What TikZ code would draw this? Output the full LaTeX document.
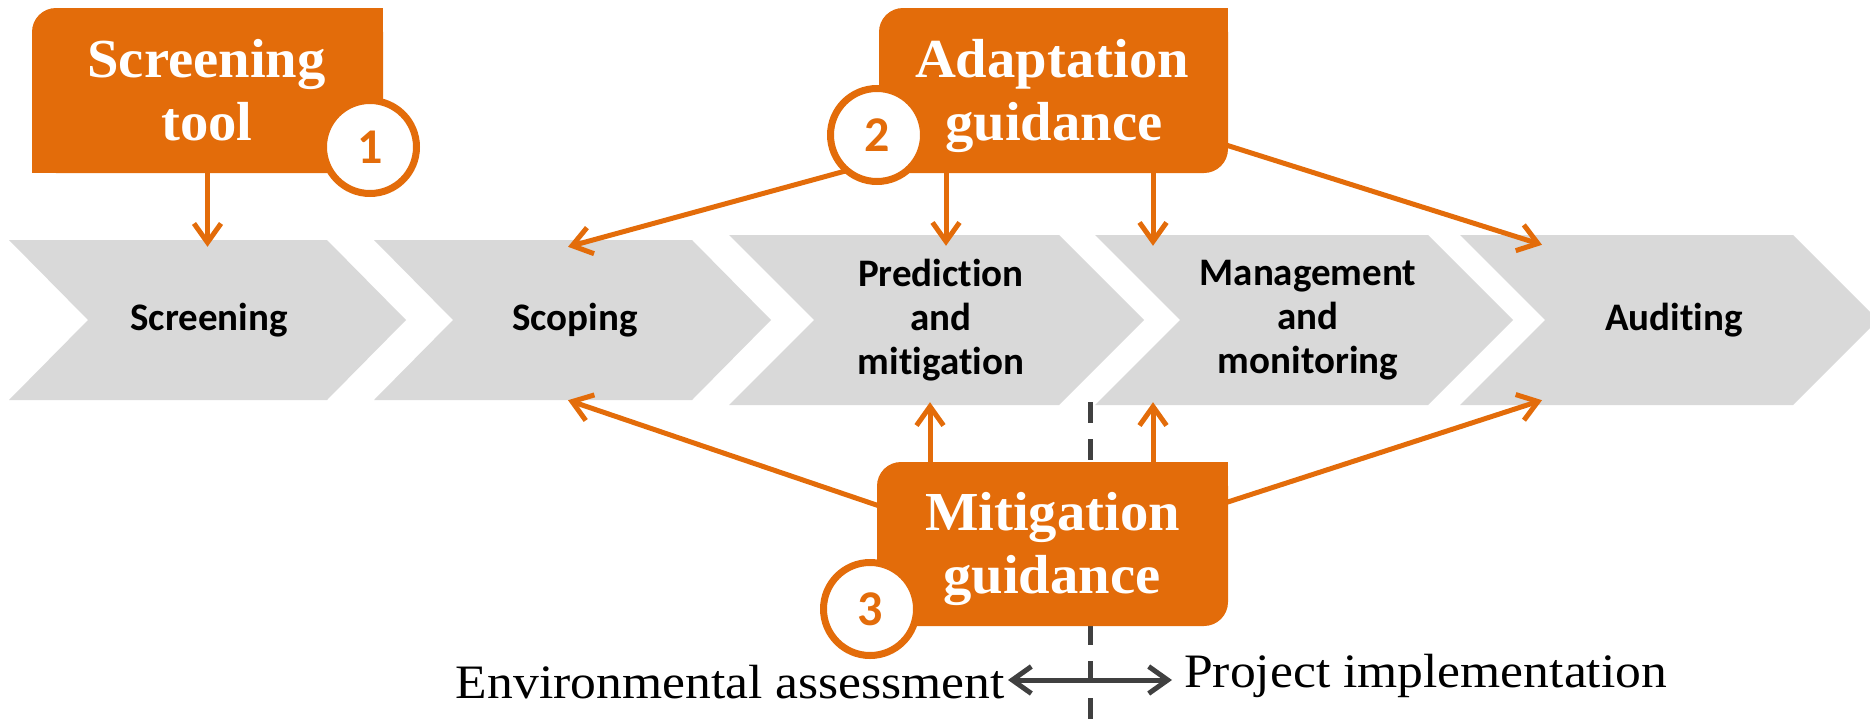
\documentclass[tikz,border=0pt]{standalone}
\usepackage{fontspec}
\usepackage{graphicx}
\setmainfont{Liberation Serif}
\newfontfamily\carl[Ligatures={NoCommon,NoContextual}]{Carlito}
\usetikzlibrary{arrows.meta,calc}
\pgfdeclarelayer{bg}
\pgfdeclarelayer{lines}
\pgfsetlayers{bg,lines,main}
\definecolor{org}{HTML}{E36C0A}
\definecolor{chevgray}{HTML}{D9D9D9}
\definecolor{dkgray}{HTML}{404040}
\tikzset{
 chev/.style={fill=chevgray},
 chevlbl/.style={font=\carl\bfseries\fontsize{39}{44}\selectfont, align=center, inner sep=0pt, text=black},
 boxnode/.style={inner sep=0pt, outer sep=0pt},
 boxtxt/.style={font=\bfseries\fontsize{55}{63}\selectfont, text=white, inner sep=0pt, anchor=base},
 numcirc/.style={circle, draw=org, line width=7pt, fill=white, minimum size=93pt, inner sep=0pt, font=\carl\bfseries\fontsize{50}{50}\selectfont, text=org},
 arr/.style={draw=org, line width=5pt, -{Straight Barb[length=19pt,width=27pt]}},
 phase/.style={font=\fontsize{48}{56}\selectfont, inner sep=0pt},
 dbl/.style={draw=dkgray, line width=5pt, {Straight Barb[length=19pt,width=27pt]}-{Straight Barb[length=19pt,width=27pt]}},
 divider/.style={draw=dkgray, line width=5pt, dash pattern=on 21pt off 16pt},
}
\begin{document}
\begin{tikzpicture}[x=1pt,y=-1pt]
\useasboundingbox (0,0) rectangle (1870,720);

\begin{pgfonlayer}{bg}
\begin{scope}
\clip (0,0) rectangle (1870,720);
\fill[chev] (9,240) -- (327,240) -- (406,320) -- (327,400) -- (9,400) -- (88,320) -- cycle;
\fill[chev] (374,240) -- (692,240) -- (771,320) -- (692,400) -- (374,400) -- (453,320) -- cycle;
\fill[chev] (729,235) -- (1059,235) -- (1144,320) -- (1059,405) -- (729,405) -- (814,320) -- cycle;
\fill[chev] (1095,235) -- (1428,235) -- (1513,320) -- (1428,405) -- (1095,405) -- (1180,320) -- cycle;
\fill[chev] (1460,235) -- (1793,235) -- (1878,320) -- (1793,405) -- (1460,405) -- (1545,320) -- cycle;
\end{scope}
\end{pgfonlayer}

% chevron labels
\node[chevlbl, minimum height=160pt] (scr) at (209,320) {Screening};
\node[chevlbl, minimum height=160pt] (scp) at (575,320) {Scoping};
\node[chevlbl, minimum height=170pt] (pm) at (941,320) {Prediction\\and\\mitigation};
\node[chevlbl, minimum height=170pt] (mm) at (1308,320) {Management\\and\\monitoring};
\node[chevlbl, minimum height=170pt] (aud) at (1674,320) {Auditing};

% orange boxes
\node[boxnode, minimum width=351pt, minimum height=165pt] (tool) at (207.5,90.5) {};
\fill[org, rounded corners=24pt] (tool.north west) rectangle (tool.south east);
\fill[org] (tool.center) rectangle (tool.north east);
\fill[org] (tool.center) rectangle (tool.south east);
\fill[org] (tool.center) rectangle (tool.south west);

\node[boxnode, minimum width=349pt, minimum height=165pt] (ada) at (1053.5,90.5) {};
\fill[org, rounded corners=24pt] (ada.north west) rectangle (ada.south east);
\fill[org] (ada.center) rectangle (ada.north east);
\fill[org] (ada.center) rectangle (ada.south west);

\node[boxnode, minimum width=351pt, minimum height=164pt] (mit) at (1052.5,544) {};
\fill[org, rounded corners=24pt] (mit.north west) rectangle (mit.south east);
\fill[org] (mit.center) rectangle (mit.north east);
\fill[org] (mit.center) rectangle (mit.south west);

% box texts
\node[boxtxt] (toolA) at (206.5,77) {\scalebox{1.03}[1]{Screening}};
\node[boxtxt] (toolB) at (207,140) {\scalebox{1.03}[1]{tool}};
\node[boxtxt] (adaA) at (1052,77) {\scalebox{1.03}[1]{Adaptation}};
\node[boxtxt] (adaB) at (1054,140) {\scalebox{1.03}[1]{guidance}};
\node[boxtxt] (mitA) at (1052.5,530) {\scalebox{1.03}[1]{Mitigation}};
\node[boxtxt] (mitB) at (1052,593) {\scalebox{1.03}[1]{guidance}};

% numbered circles
\node[numcirc] (c1) at (370,147) {1};
\node[numcirc] (c2) at (877,135) {2};
\node[numcirc] (c3) at (870,609) {3};

% connectors
\begin{pgfonlayer}{lines}
\draw[arr] (tool.south) -- ($(tool.south |- scr.north)+(0,7)$);
\draw[arr] ($(ada.south west)+(67,0)$) -- ($(ada.south west |- pm.north)+(67,11)$);
\draw[arr] ($(ada.south west)+(274,0)$) -- ($(ada.south west |- mm.north)+(274,11)$);
\draw[arr] ($(c2.center)+(-17,32)$) -- ($(scp.north)+(-7,7)$);
\draw[arr] (ada.center) -- ($(aud.north)+(-132,10)$);
\draw[arr] ($(mit.north west)+(53,0)$) -- ($(mit.north west |- pm.south)+(53,-3)$);
\draw[arr] ($(mit.north west)+(276,0)$) -- ($(mit.north west |- mm.south)+(276,-3)$);
\draw[arr] ($(mit.west)+(23,-31)$) -- ($(scp.south)+(-7,0)$);
\draw[arr] ($(mit.east)+(-28,-33)$) -- ($(aud.south)+(-132,-5)$);
\coordinate (dtop) at (1090,402);
\coordinate (dbot) at (1090,722);
\draw[divider] (dtop) -- (dbot);
\end{pgfonlayer}

% phase labels
\node[phase, anchor=base east] (ea) at (1005,698) {\scalebox{1.075}[1]{Environmental assessment}};
\node[phase, anchor=base west] (pi) at (1184,687) {\scalebox{1.075}[1]{Project implementation}};
\draw[dbl] ($(ea.base east)+(3,-18)$) -- ($(pi.base west)+(-12,-7)$);
\end{tikzpicture}
\end{document}
